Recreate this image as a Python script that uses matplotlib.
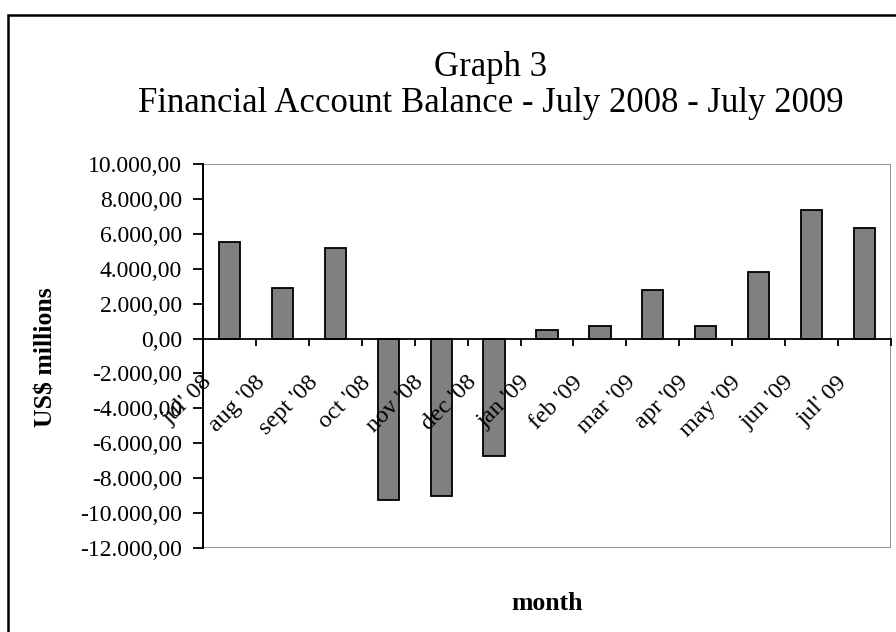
import matplotlib
matplotlib.use("Agg")
from matplotlib import pyplot as plt
from matplotlib.patches import Rectangle
from matplotlib.transforms import ScaledTranslation
from matplotlib.ticker import FuncFormatter
import numpy as np

months = ["jul' 08", "aug '08", "sept '08", "oct '08", "nov '08", "dec '08",
          "jan '09", "feb '09", "mar '09", "apr '09", "may '09", "jun '09", "jul' 09"]
balance = [5550, 2900, 5200, -9250, -9040, -6730,
           490, 720, 2780, 730, 3810, 7360, 6330]
yticks = np.arange(-12000, 10001, 2000)

plt.rcParams['font.family'] = ['Liberation Serif', 'DejaVu Serif']

W, H = 896, 632
fig = plt.figure(figsize=(W / 100, H / 100), dpi=100)

# outer frame (runs off the right and bottom edge like the original)
fig.patches.append(Rectangle((8 / W, -0.1), 1.0, 1 - 15 / H + 0.1,
                             transform=fig.transFigure, fill=False,
                             edgecolor='black', linewidth=1.8))

ax = fig.add_axes([203 / W, 84 / H, 688 / W, 384 / H])
ax.set_axisbelow(False)

ind = np.arange(len(months))
ax.bar(ind, balance, 0.4, color='#808080', edgecolor='black', linewidth=1.3, zorder=2)

ax.set_xlim(-0.5, len(months) - 0.5)
ax.set_ylim(-12000, 10000)
ax.set_yticks(yticks)

def fmt(v, pos):
    s = f"{v:,.2f}"
    return s.replace(',', 'X').replace('.', ',').replace('X', '.')

ax.yaxis.set_major_formatter(FuncFormatter(fmt))
ax.tick_params(axis='y', direction='out', length=7, width=1.3, pad=8, labelsize=17)

# x axis drawn at zero
ax.spines['bottom'].set_position(('data', 0))
ax.spines['bottom'].set_linewidth(1.3)
ax.spines['left'].set_linewidth(1.4)
ax.spines['top'].set_visible(False)
ax.spines['right'].set_visible(False)
ax.add_patch(Rectangle((0, 0), 1, 1, transform=ax.transAxes, fill=False,
                       edgecolor='#8c8c8c', linewidth=1.3, zorder=1))

ax.set_xticks(ind)
ax.set_xticklabels(months, rotation=45, ha='right', va='top', rotation_mode='anchor')
ax.set_xticks(np.arange(0.5, len(months), 1.0), minor=True)
ax.tick_params(axis='x', which='major', length=0, pad=24, labelsize=17.5)
ax.tick_params(axis='x', which='minor', direction='out', length=5, width=1.3)
shift = ScaledTranslation(-28 / 100, 0, fig.dpi_scale_trans)
for lab in ax.get_xticklabels():
    lab.set_transform(lab.get_transform() + shift)

fig.text(491 / W, 1 - 67 / H, 'Graph 3', ha='center', va='center', fontsize=25)
fig.text(491 / W, 1 - 103 / H, 'Financial Account Balance - July 2008 - July 2009',
         ha='center', va='center', fontsize=25)
fig.text(46 / W, 1 - 357 / H, 'US$ millions', rotation=90, ha='center', va='center',
         fontsize=18.5, fontweight='bold')
fig.text(547 / W, 1 - 603 / H, 'month', ha='center', va='center',
         fontsize=18.5, fontweight='bold')

plt.savefig('out.png', dpi=100)
